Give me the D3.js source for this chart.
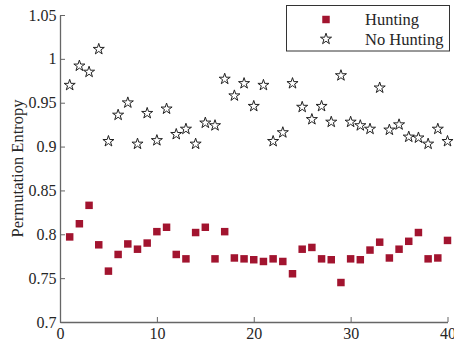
<!DOCTYPE html>
<html>
<head>
<meta charset="utf-8">
<script src="https://cdn.jsdelivr.net/npm/d3@7"></script>
<style>
  html, body { margin: 0; padding: 0; background: #fff; }
  svg { display: block; font-family: "Liberation Serif", "Times New Roman", serif; }
</style>
</head>
<body>
<svg id="chart" width="454" height="344"></svg>
<script>
// Trial index 1..40
const trials = d3.range(1, 41);

// Permutation entropy per trial, with hunting
const hunting = [
  0.797, 0.812, 0.833, 0.788, 0.758, 0.777, 0.789, 0.783, 0.790, 0.803,
  0.808, 0.777, 0.772, 0.802, 0.808, 0.772, 0.803, 0.773, 0.772, 0.771,
  0.769, 0.772, 0.769, 0.755, 0.783, 0.785, 0.772, 0.771, 0.745, 0.772,
  0.771, 0.782, 0.791, 0.773, 0.783, 0.792, 0.802, 0.772, 0.773, 0.793
];

// Permutation entropy per trial, without hunting
const noHunting = [
  0.970, 0.992, 0.985, 1.011, 0.906, 0.936, 0.950, 0.903, 0.938, 0.907,
  0.943, 0.914, 0.920, 0.903, 0.927, 0.924, 0.977, 0.958, 0.972, 0.946,
  0.970, 0.906, 0.916, 0.972, 0.945, 0.931, 0.946, 0.928, 0.981, 0.928,
  0.924, 0.920, 0.967, 0.919, 0.925, 0.911, 0.910, 0.903, 0.920, 0.906
];

const xTicks = [0, 10, 20, 30, 40];
const yTicks = [0.7, 0.75, 0.8, 0.85, 0.9, 0.95, 1, 1.05];
const seriesNames = ["Hunting", "No Hunting"];

const svg = d3.select("#chart");
const plotLeft = 60, plotRight = 447.5, plotTop = 15, plotBottom = 322;
const axisColor = "#666";
const textColor = "#262626";
const huntColor = "#A2142F";
const serif = "Liberation Serif, Times New Roman, serif";

const x = d3.scaleLinear().domain([0, 40]).range([plotLeft, plotRight]);
const y = d3.scaleLinear().domain([0.7, 1.05]).range([plotBottom, plotTop]);

// Axes with inward ticks
const xAxis = d3.axisBottom(x).tickValues(xTicks).tickSizeInner(-5).tickSizeOuter(0).tickPadding(5.5).tickFormat(d3.format("d"));
const yAxis = d3.axisLeft(y).tickValues(yTicks).tickSizeInner(-5).tickSizeOuter(0).tickPadding(3.5).tickFormat(d => String(+d.toFixed(2)));

const gx = svg.append("g").attr("transform", `translate(0,${plotBottom})`).call(xAxis);
const gy = svg.append("g").attr("transform", `translate(${plotLeft},0)`).call(yAxis);
[gx, gy].forEach(g => {
  g.attr("font-family", serif);
  g.select(".domain").attr("stroke", axisColor).attr("stroke-width", 1.3);
  g.selectAll(".tick line").attr("stroke", axisColor).attr("stroke-width", 1);
  g.selectAll(".tick text").attr("fill", textColor).attr("font-size", 16);
});

// Y label
svg.append("text")
  .attr("transform", `translate(23,168.5) rotate(-90)`)
  .attr("text-anchor", "middle")
  .attr("font-size", 16.5)
  .attr("fill", textColor)
  .text("Permutation Entropy");

const square = d3.symbol().type(d3.symbolSquare).size(56);
const star = d3.symbol().type(d3.symbolStar).size(38);

// No-hunting stars
svg.append("g").selectAll("path").data(trials).join("path")
  .attr("d", star)
  .attr("transform", (d, i) => `translate(${x(d)},${y(noHunting[i])})`)
  .attr("fill", "#fff").attr("stroke", "#222").attr("stroke-width", 1);

// Hunting squares
svg.append("g").selectAll("path").data(trials).join("path")
  .attr("d", square)
  .attr("transform", (d, i) => `translate(${x(d)},${y(hunting[i])})`)
  .attr("fill", huntColor);

// Legend
const lg = svg.append("g");
lg.append("rect").attr("x", 286.5).attr("y", 5.5).attr("width", 163).attr("height", 45.5)
  .attr("fill", "#fff").attr("stroke", "#333").attr("stroke-width", 1);
lg.append("path").attr("d", square).attr("transform", "translate(326,19.5)").attr("fill", huntColor);
lg.append("path").attr("d", star).attr("transform", "translate(326,39)")
  .attr("fill", "#fff").attr("stroke", "#222").attr("stroke-width", 1);
lg.selectAll("text.lbl").data(seriesNames).join("text")
  .attr("class", "lbl")
  .attr("x", 365).attr("y", (d, i) => 25 + i * 20)
  .attr("font-size", 16.5).attr("fill", textColor)
  .text(d => d);
</script>
</body>
</html>
